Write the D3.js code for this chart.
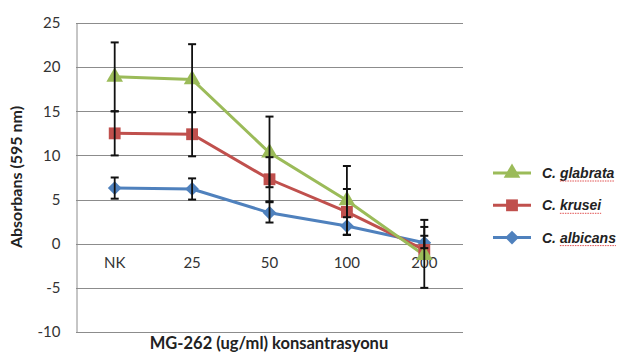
<!DOCTYPE html>
<html>
<head>
<meta charset="utf-8">
<script src="https://cdnjs.cloudflare.com/ajax/libs/d3/7.8.5/d3.min.js"></script>
<style>
  body { margin: 0; background: #fff; }
  svg { display: block; }
</style>
</head>
<body>
<svg width="621" height="354"></svg>
<script>
// chart data
const categories = ["NK", "25", "50", "100", "200"];
const yTicks = [-10, -5, 0, 5, 10, 15, 20, 25];

const glabrata   = [18.9, 18.6, 10.3, 4.9, -1.3];
const glabrataHi = [22.8, 22.6, 14.4, 8.8, 2.7];
const glabrataLo = [15.0, 14.9, 6.4, 1.0, -5.0];

const krusei   = [12.5, 12.4, 7.3, 3.6, -0.7];
const kruseiHi = [15.0, 14.9, 9.8, 6.2, 1.9];
const kruseiLo = [10.0, 9.9, 4.8, 1.0, -0.7];

const albicans   = [6.3, 6.2, 3.5, 2.0, 0.1];
const albicansHi = [7.5, 7.4, 4.7, 3.0, 0.9];
const albicansLo = [5.1, 5.0, 2.4, 1.0, -0.5];

const series = [
  { name: "albicans", label: "C. albicans", values: albicans, hi: albicansHi, lo: albicansLo, color: "#4F81BD", symbol: d3.symbolDiamond2, size: 120 },
  { name: "krusei", label: "C. krusei", values: krusei, hi: kruseiHi, lo: kruseiLo, color: "#C0504D", symbol: d3.symbolSquare, size: 140 },
  { name: "glabrata", label: "C. glabrata", values: glabrata, hi: glabrataHi, lo: glabrataLo, color: "#9BBB59", symbol: d3.symbolTriangle, size: 120 }
];

const svg = d3.select("svg");
const margin = { left: 76, right: 158, top: 23, bottom: 22 };
const width = 621 - margin.left - margin.right;
const height = 354 - margin.top - margin.bottom;

const x = d3.scaleBand().domain(categories).range([margin.left, margin.left + width]);
const y = d3.scaleLinear().domain([-10, 25]).range([margin.top + height, margin.top]);

const font = "Lato, 'Open Sans', sans-serif";

// gridlines
svg.append("g")
  .selectAll("line")
  .data(yTicks)
  .enter().append("line")
    .attr("x1", margin.left)
    .attr("x2", margin.left + width)
    .attr("y1", d => Math.round(y(d)) + 0.5)
    .attr("y2", d => Math.round(y(d)) + 0.5)
    .style("stroke", "#8c8c8c")
    .style("stroke-width", 1);

// y axis
const yAxis = svg.append("g")
  .attr("transform", `translate(${margin.left + 0.5},0)`)
  .call(d3.axisLeft(y).tickValues(yTicks).tickFormat(d => String(d)).tickSize(0).tickPadding(16));
yAxis.select(".domain").style("stroke", "#8c8c8c");
yAxis.selectAll("text")
  .style("font-family", font)
  .style("font-size", "15px")
  .style("fill", "#333");

// category labels sit just under the zero line
const xAxis = svg.append("g")
  .attr("transform", `translate(0,${y(0)})`)
  .call(d3.axisBottom(x).tickSize(0).tickPadding(14));
xAxis.select(".domain").remove();
xAxis.selectAll("text")
  .style("font-family", font)
  .style("font-size", "15px")
  .style("fill", "#333");

// axis titles
svg.append("text")
  .attr("transform", `translate(22,${margin.top + 154}) rotate(-90)`)
  .attr("text-anchor", "middle")
  .style("font-family", font)
  .style("font-weight", "bold")
  .style("font-size", "16px")
  .style("fill", "#222")
  .text("Absorbans (595 nm)");

svg.append("text")
  .attr("x", 269)
  .attr("y", 349)
  .attr("text-anchor", "middle")
  .style("font-family", font)
  .style("font-weight", "bold")
  .style("font-size", "16.5px")
  .style("fill", "#222")
  .text("MG-262 (ug/ml) konsantrasyonu");

const cx = d => x(d) + x.bandwidth() / 2;
const line = d3.line().x(d => cx(d.c)).y(d => y(d.v));

// lines
series.forEach(s => {
  const pts = categories.map((c, i) => ({ c: c, v: s.values[i] }));
  svg.append("path")
    .datum(pts)
    .attr("d", line)
    .style("fill", "none")
    .style("stroke", s.color)
    .style("stroke-width", 3);
});

// markers
series.forEach(s => {
  svg.append("g")
    .selectAll("path")
    .data(categories.map((c, i) => ({ c: c, v: s.values[i] })))
    .enter().append("path")
      .attr("transform", d => `translate(${cx(d.c)},${y(d.v)})`)
      .attr("d", d3.symbol().type(s.symbol).size(s.size))
      .style("fill", s.color);
});

// error bars on top
series.forEach(s => {
  const g = svg.append("g");
  categories.forEach((c, i) => {
    const xc = cx(c);
    g.append("line")
      .attr("x1", xc).attr("x2", xc)
      .attr("y1", y(s.hi[i])).attr("y2", y(s.lo[i]))
      .style("stroke", "#111").style("stroke-width", 1.8);
    [s.hi[i], s.lo[i]].forEach(v => {
      if (v === s.values[i]) return;
      g.append("line")
        .attr("x1", xc - 4).attr("x2", xc + 4)
        .attr("y1", y(v)).attr("y2", y(v))
        .style("stroke", "#111").style("stroke-width", 2);
    });
  });
});

// legend
const legendOrder = ["glabrata", "krusei", "albicans"];
const legend = svg.append("g");
legendOrder.forEach((n, i) => {
  const s = series.find(d => d.name === n);
  const ly = 173 + i * 32.3;
  legend.append("line")
    .attr("x1", 493).attr("x2", 531)
    .attr("y1", ly).attr("y2", ly)
    .style("stroke", s.color).style("stroke-width", 3);
  legend.append("path")
    .attr("transform", `translate(512,${ly})`)
    .attr("d", d3.symbol().type(s.symbol).size(s.size))
    .style("fill", s.color);
  const t = legend.append("text")
    .attr("x", 542)
    .attr("y", ly + 5)
    .style("font-family", "'Liberation Sans', Arial, sans-serif")
    .style("font-style", "italic")
    .style("font-weight", "bold")
    .style("font-size", "14px")
    .style("fill", "#222");
  t.append("tspan").text("C. ");
  const word = t.append("tspan").text(s.label.slice(3));
  // spell-check squiggle under the species name
  const start = t.node().getSubStringLength(0, 3);
  const len = word.node().getComputedTextLength();
  legend.append("line")
    .attr("x1", 542 + start).attr("x2", 542 + start + len)
    .attr("y1", ly + 8).attr("y2", ly + 8)
    .style("stroke", "#e05050")
    .style("stroke-width", 1)
    .style("stroke-dasharray", "1.5,1");
});
</script>
</body>
</html>
